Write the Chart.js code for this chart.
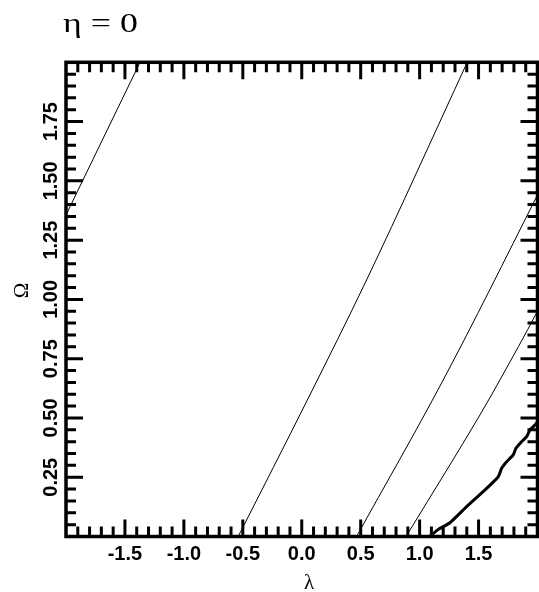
<!DOCTYPE html>
<html>
<head>
<meta charset="utf-8">
<script src="https://cdn.jsdelivr.net/npm/chart.js@4.4.1/dist/chart.umd.min.js"></script>
<style>
  html, body { margin: 0; padding: 0; background: #fff; overflow: hidden; }
  #wrap { width: 539px; height: 592px; }
</style>
</head>
<body>
<div id="wrap"><canvas id="c" width="539" height="592"></canvas></div>
<script>
// Axis ticks
const xTickValues = [-1.5, -1.0, -0.5, 0.0, 0.5, 1.0, 1.5];
const xTickLabels = ['-1.5', '-1.0', '-0.5', '0.0', '0.5', '1.0', '1.5'];
const yTickValues = [0.25, 0.50, 0.75, 1.00, 1.25, 1.50, 1.75];
const yTickLabels = ['0.25', '0.50', '0.75', '1.00', '1.25', '1.50', '1.75'];

// Contour lines (λ, Ω)
const curveALambda = [-2.0, -1.372];
const curveAOmega  = [1.356, 2.0];

const curveBLambda = [-0.539, 0.055, 0.550, 1.404];
const curveBOmega  = [0.0, 0.583, 1.082, 2.0];

const curveCLambda = [0.465, 1.200, 1.992, 2.0];
const curveCOmega  = [0.0, 0.660, 1.433, 1.441];

const curveDLambda = [0.885, 0.918, 1.511, 1.681, 1.997, 2.0];
const curveDOmega  = [0.0, 0.027, 0.512, 0.660, 0.948, 0.951];

// Boundary curve (thick)
const boundaryLambda = [1.087, 1.158, 1.257, 1.399, 1.539, 1.667, 1.696, 1.738, 1.794, 1.817, 1.865, 1.908, 1.935, 1.978, 2.0];
const boundaryOmega  = [0.0, 0.030, 0.058, 0.126, 0.189, 0.252, 0.288, 0.315, 0.344, 0.372, 0.400, 0.421, 0.449, 0.470, 0.484];

const titleText = 'η = 0';
const xTitle = 'λ';
const yTitle = 'Ω';

function toPoints(xs, ys) {
  return xs.map((x, i) => ({ x: x, y: ys[i] }));
}

const tickFont = { family: "'Liberation Sans', Arial, sans-serif", size: 20, weight: 'bold' };

function labelFor(values, labels, v) {
  const i = values.findIndex(t => Math.abs(t - v) < 1e-9);
  return i >= 0 ? labels[i] : '';
}

// Frame, inward tick marks and the text around the plot
const framePlugin = {
  id: 'frame',
  afterDraw(chart) {
    const ctx = chart.ctx;
    const a = chart.chartArea;
    const xs = chart.scales.x;
    const ys = chart.scales.y;
    ctx.save();
    ctx.strokeStyle = '#000';
    ctx.lineCap = 'butt';

    const majLen = 17, minLen = 10;
    ctx.lineWidth = 3;
    ctx.beginPath();
    for (let k = -19; k <= 19; k++) {
      const v = k / 10;
      const px = xs.getPixelForValue(v);
      const len = (k % 5 === 0) ? majLen : minLen;
      ctx.moveTo(px, a.bottom); ctx.lineTo(px, a.bottom - len);
      ctx.moveTo(px, a.top); ctx.lineTo(px, a.top + len);
    }
    for (let k = 1; k <= 39; k++) {
      const v = k / 20;
      const py = ys.getPixelForValue(v);
      const len = (k % 5 === 0) ? majLen : minLen;
      ctx.moveTo(a.left, py); ctx.lineTo(a.left + len, py);
      ctx.moveTo(a.right, py); ctx.lineTo(a.right - len, py);
    }
    ctx.stroke();

    ctx.lineWidth = 3.5;
    ctx.strokeRect(a.left, a.top, a.right - a.left, a.bottom - a.top);

    ctx.fillStyle = '#000';
    // chart title
    ctx.save();
    ctx.font = "28px 'Liberation Serif'";
    ctx.textBaseline = 'alphabetic';
    ctx.textAlign = 'left';
    ctx.translate(63, 32);
    ctx.scale(1.28, 1);
    ctx.fillText(titleText, 0, 0);
    ctx.restore();

    // x axis title
    ctx.save();
    ctx.font = "21px 'Liberation Serif'";
    ctx.textAlign = 'center';
    ctx.textBaseline = 'alphabetic';
    ctx.translate(309, 589);
    ctx.fillText(xTitle, 0, 0);
    ctx.restore();

    // y axis title
    ctx.save();
    ctx.font = "21px 'Liberation Serif'";
    ctx.textAlign = 'center';
    ctx.textBaseline = 'alphabetic';
    ctx.translate(27.5, 290.5);
    ctx.rotate(-Math.PI / 2);
    ctx.fillText(yTitle, 0, 0);
    ctx.restore();

    ctx.restore();
  }
};

const thin = { borderColor: '#000', borderWidth: 1, pointRadius: 0, showLine: true, fill: false,
               cubicInterpolationMode: 'monotone' };

new Chart(document.getElementById('c'), {
  type: 'scatter',
  data: {
    datasets: [
      Object.assign({ data: toPoints(curveALambda, curveAOmega) }, thin),
      Object.assign({ data: toPoints(curveBLambda, curveBOmega) }, thin),
      Object.assign({ data: toPoints(curveCLambda, curveCOmega) }, thin),
      Object.assign({ data: toPoints(curveDLambda, curveDOmega) }, thin),
      { data: toPoints(boundaryLambda, boundaryOmega), borderColor: '#000', borderWidth: 3,
        pointRadius: 0, showLine: true, fill: false, tension: 0.2, borderJoinStyle: 'round' }
    ]
  },
  options: {
    responsive: false,
    animation: false,
    devicePixelRatio: 1,
    layout: { padding: { top: 62.3, right: 1.5, left: 0, bottom: 0 } },
    plugins: { legend: { display: false }, tooltip: { enabled: false }, title: { display: false } },
    scales: {
      x: {
        type: 'linear', position: 'bottom', min: -2, max: 2,
        grid: { display: false, drawTicks: false },
        border: { display: false },
        afterBuildTicks(s) { s.ticks = xTickValues.map(v => ({ value: v })); },
        afterFit(s) { s.height = 55.5; },
        ticks: {
          color: '#000', font: tickFont, padding: 6, autoSkip: false, maxRotation: 0, minRotation: 0,
          callback: v => labelFor(xTickValues, xTickLabels, v)
        }
      },
      y: {
        type: 'linear', position: 'left', min: 0, max: 2,
        grid: { display: false, drawTicks: false },
        border: { display: false },
        afterBuildTicks(s) { s.ticks = yTickValues.map(v => ({ value: v })); },
        afterFit(s) { s.width = 66; },
        ticks: {
          color: '#000', font: tickFont, padding: -4.5, autoSkip: false,
          minRotation: 90, maxRotation: 90, crossAlign: 'center',
          callback: v => labelFor(yTickValues, yTickLabels, v)
        }
      }
    }
  },
  plugins: [framePlugin]
});
</script>
</body>
</html>
